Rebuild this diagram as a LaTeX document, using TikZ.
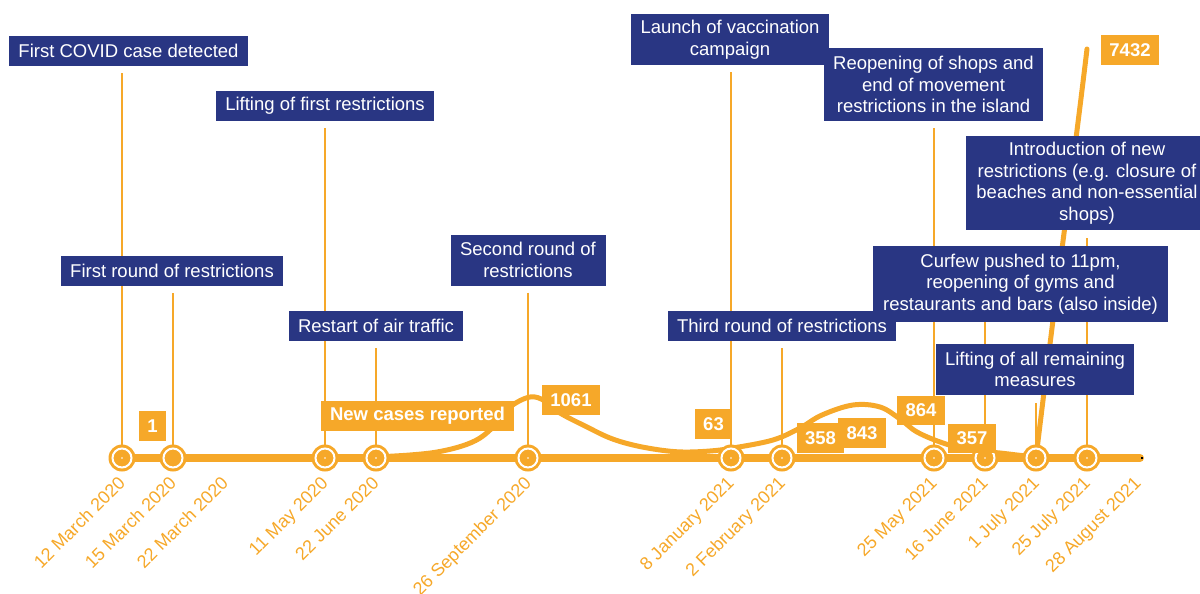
\documentclass[tikz,border=0pt]{standalone}
\usepackage{fontspec}
\setmainfont{Liberation Sans}
\usetikzlibrary{calc}
\definecolor{navy}{RGB}{41,54,131}
\definecolor{orng}{RGB}{246,168,41}
\begin{document}
\begin{tikzpicture}[x=1pt,y=-1pt,
 evbox/.style={fill=navy,text=white,inner sep=0pt,align=center,font=\fontsize{18.5}{21.5}\selectfont},
 numbox/.style={fill=orng,text=white,inner sep=0pt,font=\fontsize{18.5}{21.5}\selectfont\bfseries},
 datelbl/.style={text=orng,inner sep=0pt,rotate=45,anchor=north east,font=\fontsize{18}{22}\selectfont},
 vline/.style={draw=orng,line width=1.5pt},
 casecurve/.style={draw=orng,line width=5pt,line cap=round},
 tick/.style={circle,fill=orng,minimum size=27pt,inner sep=0pt}]
\useasboundingbox (0,0) rectangle (1200,594);

% timeline positions
\coordinate (c1) at (122,458);
\coordinate (c2) at (173,458);
\coordinate (c3) at (325,458);
\coordinate (c4) at (376,458);
\coordinate (c5) at (528,458);
\coordinate (c6) at (731,458);
\coordinate (c7) at (782,458);
\coordinate (c8) at (934,458);
\coordinate (c9) at (985,458);
\coordinate (c10) at (1036,458);
\coordinate (c11) at (1087,458);
\coordinate (tend) at (1140,458);

% event box frames (anchors for the connectors)
\path (128.5,51) node[minimum width=239pt,minimum height=30pt,inner sep=0pt] (pFC) {};
\path (172,271) node[minimum width=222pt,minimum height=30pt,inner sep=0pt] (pFR) {};
\path (325,106) node[minimum width=218pt,minimum height=30pt,inner sep=0pt] (pLF) {};
\path (376,326) node[minimum width=174pt,minimum height=30pt,inner sep=0pt] (pAT) {};
\path (528,260) node[minimum width=155pt,minimum height=51pt,inner sep=0pt] (pSR) {};
\path (730,39.5) node[minimum width=198pt,minimum height=51pt,inner sep=0pt] (pVac) {};
\path (782,326) node[minimum width=228pt,minimum height=30pt,inner sep=0pt] (pTR) {};
\path (933.5,84.5) node[minimum width=219pt,minimum height=73pt,inner sep=0pt] (pReo) {};
\path (1087,183) node[minimum width=242pt,minimum height=94pt,inner sep=0pt] (pInt) {};
\path (1020.5,284) node[minimum width=295pt,minimum height=76pt,inner sep=0pt] (pCur) {};
\path (1035,369.5) node[minimum width=198pt,minimum height=51pt,inner sep=0pt] (pLA) {};

% timeline
\draw[orng,line width=8pt,line cap=round] (c1) -- (tend);
\fill[black] ($(tend)+(1,-1)$) rectangle ($(tend)+(3,1)$);

% connectors
\draw[vline] ($(c1 |- pFC.south)+(0,7)$) -- (c1);
\draw[vline] ($(c2 |- pFR.south)+(0,7)$) -- (c2);
\draw[vline] ($(c3 |- pLF.south)+(0,7)$) -- (c3);
\draw[vline] ($(c4 |- pAT.south)+(0,7)$) -- (c4);
\draw[vline] ($(c5 |- pSR.south)+(0,7)$) -- (c5);
\draw[vline] ($(c6 |- pVac.south)+(0,7)$) -- (c6);
\draw[vline] ($(c7 |- pTR.south)+(0,7)$) -- (c7);
\draw[vline] ($(c8 |- pReo.south)+(0,7)$) -- (c8);
\draw[vline] ($(c9 |- pCur.south)+(0,-10)$) -- (c9);
\draw[vline] ($(c10 |- pLA.south)+(0,8)$) -- (c10);
\draw[vline] ($(c11 |- pInt.south)+(0,8)$) -- (c11);

% case curve
\draw[casecurve] plot[smooth,tension=0.6] coordinates {
 (376,457) (410,455) (437,452) (462,446) (480,438) (495,425) (510,407) (530,397)
 (545,401) (560,413) (587,427) (610,438) (633,445) (660,450) (683,452) (710,451)
 (733,448) (773,440) (800,428) (822,415) (853,405) (880,407) (900,419) (917,432)
 (943,443) (970,450) (1000,453) (1017,455) (1036,457)};
\coordinate (peak) at (1087,49);
\draw[casecurve] (c10) .. controls (1050,340) and (1075,150) .. (peak);

% timeline markers
\foreach \i in {1,...,11}{
  \node[tick] (k\i) at (c\i) {};
  \draw[white,line width=2pt] (c\i) circle (9.5pt);
}
\foreach \i in {1,3,4,5,6,7,8,9,10,11}{
  \fill[white] (c\i) circle (0.9pt);
}

% event boxes
\node[evbox,minimum width=239pt,minimum height=30pt] (bFC) at (pFC) {First COVID case detected};
\node[evbox,minimum width=222pt,minimum height=30pt] (bFR) at (pFR) {First round of restrictions};
\node[evbox,minimum width=218pt,minimum height=30pt] (bLF) at (pLF) {Lifting of first restrictions};
\node[evbox,minimum width=174pt,minimum height=30pt] (bAT) at (pAT) {Restart of air traffic};
\node[evbox,minimum width=155pt,minimum height=51pt] (bSR) at (pSR) {Second round of\\restrictions};
\node[evbox,minimum width=198pt,minimum height=51pt] (bVac) at (pVac) {Launch of vaccination\\campaign};
\node[evbox,minimum width=228pt,minimum height=30pt] (bTR) at (pTR) {Third round of restrictions};
\node[evbox,minimum width=219pt,minimum height=73pt] (bReo) at (pReo) {Reopening of shops and\\end of movement\\restrictions in the island};
\node[evbox,minimum width=242pt,minimum height=94pt] (bInt) at (pInt) {Introduction of new\\restrictions (e.g. closure of\\beaches and non-essential\\shops)};
\node[evbox,minimum width=295pt,minimum height=76pt] (bCur) at (pCur) {Curfew pushed to 11pm,\\reopening of gyms and\\restaurants and bars (also inside)};
\node[evbox,minimum width=198pt,minimum height=51pt] (bLA) at (pLA) {Lifting of all remaining\\measures};

% case numbers
\node[numbox,minimum width=27pt,minimum height=30pt] (n1) at (152.5,426) {1};
\node[numbox,minimum width=193pt,minimum height=30pt] (nNew) at (417.5,416) {New cases reported};
\node[numbox,minimum width=58pt,minimum height=30pt] (n1061) at (571,400) {1061};
\node[numbox,minimum width=37pt,minimum height=30pt] (n63) at (713.5,424) {63};
\node[numbox,minimum width=47pt,minimum height=30pt] (n358) at (820.5,438) {358};
\node[numbox,minimum width=48pt,minimum height=30pt] (n843) at (862,433) {843};
\node[numbox,minimum width=48pt,minimum height=29pt] (n864) at (921,410.5) {864};
\node[numbox,minimum width=48pt,minimum height=29pt] (n357) at (972,438.5) {357};
\node[numbox,minimum width=58pt,minimum height=30pt] (n7432) at (1130,50) {7432};

% dates
\node[datelbl] (d1) at (117,475) {12 March 2020};
\node[datelbl] (d2) at (168,475) {15 March 2020};
\node[datelbl] (d3) at (220,475) {22 March 2020};
\node[datelbl] (d4) at (320,475) {11 May 2020};
\node[datelbl] (d5) at (371,475) {22 June 2020};
\node[datelbl] (d6) at (523,475) {26 September 2020};
\node[datelbl] (d7) at (726,475) {8 January 2021};
\node[datelbl] (d8) at (777,475) {2 February 2021};
\node[datelbl] (d9) at (929,475) {25 May 2021};
\node[datelbl] (d10) at (980,475) {16 June 2021};
\node[datelbl] (d11) at (1031,475) {1 July 2021};
\node[datelbl] (d12) at (1082,475) {25 July 2021};
\node[datelbl] (d13) at (1133,475) {28 August 2021};
\end{tikzpicture}
\end{document}
